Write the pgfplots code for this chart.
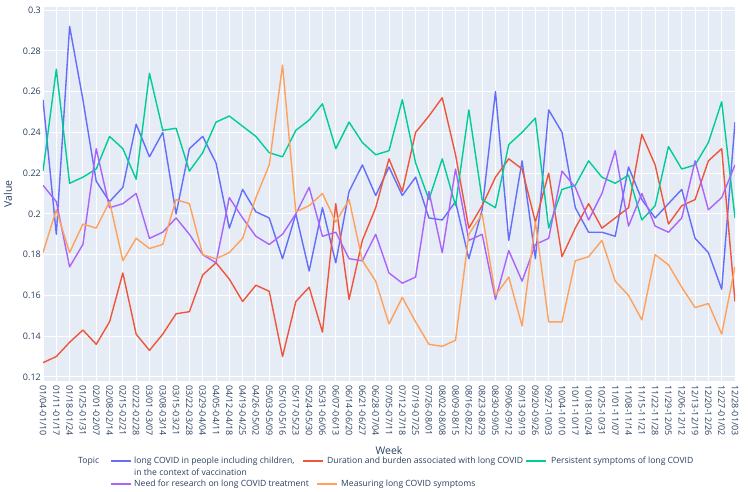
\documentclass[border=0pt]{standalone}
\usepackage{pgfplots}
\pgfplotsset{compat=1.18}
\usepackage{pgfplotstable}
\usepackage{fontspec}
\setmainfont{Open Sans}
\definecolor{txt}{HTML}{2A3F5F}
\definecolor{bgc}{HTML}{E5ECF6}
\definecolor{c1}{HTML}{636EFA}
\definecolor{c2}{HTML}{EF553B}
\definecolor{c3}{HTML}{00CC96}
\definecolor{c4}{HTML}{AB63FA}
\definecolor{c5}{HTML}{FFA15A}

\pgfplotstableread{
x blue red green purple orange
0 0.256 0.127 0.221 0.214 0.181
1 0.190 0.130 0.271 0.206 0.202
2 0.292 0.137 0.215 0.174 0.181
3 0.256 0.143 0.218 0.185 0.195
4 0.216 0.136 0.222 0.232 0.193
5 0.206 0.147 0.238 0.203 0.206
6 0.213 0.171 0.232 0.205 0.177
7 0.244 0.141 0.217 0.210 0.188
8 0.228 0.133 0.269 0.188 0.183
9 0.240 0.141 0.241 0.191 0.185
10 0.200 0.151 0.242 0.198 0.207
11 0.232 0.152 0.221 0.190 0.205
12 0.238 0.170 0.230 0.180 0.180
13 0.225 0.176 0.245 0.176 0.178
14 0.193 0.168 0.248 0.208 0.181
15 0.212 0.157 0.243 0.198 0.188
16 0.201 0.165 0.238 0.189 0.208
17 0.198 0.162 0.230 0.185 0.224
18 0.178 0.130 0.228 0.190 0.273
19 0.200 0.157 0.241 0.200 0.201
20 0.172 0.164 0.246 0.213 0.204
21 0.203 0.142 0.254 0.189 0.210
22 0.176 0.205 0.232 0.191 0.196
23 0.211 0.158 0.245 0.178 0.207
24 0.224 0.187 0.235 0.177 0.177
25 0.209 0.203 0.229 0.190 0.167
26 0.223 0.227 0.231 0.171 0.146
27 0.209 0.211 0.256 0.166 0.159
28 0.218 0.240 0.225 0.169 0.147
29 0.198 0.248 0.207 0.211 0.136
30 0.197 0.257 0.227 0.181 0.135
31 0.206 0.229 0.204 0.222 0.138
32 0.178 0.193 0.251 0.187 0.190
33 0.202 0.204 0.207 0.190 0.200
34 0.260 0.218 0.203 0.158 0.160
35 0.187 0.227 0.234 0.182 0.169
36 0.226 0.222 0.240 0.167 0.145
37 0.178 0.196 0.247 0.185 0.196
38 0.251 0.220 0.193 0.188 0.147
39 0.240 0.179 0.212 0.221 0.147
40 0.203 0.193 0.214 0.213 0.177
41 0.191 0.205 0.226 0.197 0.179
42 0.191 0.193 0.218 0.210 0.187
43 0.189 0.198 0.215 0.231 0.167
44 0.223 0.203 0.219 0.194 0.160
45 0.207 0.239 0.197 0.210 0.148
46 0.198 0.224 0.204 0.194 0.180
47 0.205 0.195 0.233 0.191 0.175
48 0.212 0.204 0.222 0.198 0.164
49 0.188 0.207 0.224 0.226 0.154
50 0.181 0.226 0.235 0.202 0.156
51 0.163 0.232 0.255 0.208 0.141
52 0.245 0.157 0.198 0.224 0.174
}\data

\begin{document}
\begin{tikzpicture}
\begin{axis}[
  at={(43pt,111pt)}, anchor=south west, scale only axis,
  width=692pt, height=374pt,
  xmin=0, xmax=52, ymin=0.118, ymax=0.3015,
  axis background/.style={fill=bgc},
  axis line style={draw=none},
  grid=major, grid style={white, line width=0.9pt},
  major tick length=0pt,
  clip=true,
  xtick={0,...,52},
  xticklabels={01/04-01/10,01/11-01/17,01/18-01/24,01/25-01/31,02/01-02/07,02/08-02/14,02/15-02/21,02/22-02/28,03/01-03/07,03/08-03/14,03/15-03/21,03/22-03/28,03/29-04/04,04/05-04/11,04/12-04/18,04/19-04/25,04/26-05/02,05/03-05/09,05/10-05/16,05/17-05/23,05/24-05/30,05/31-06/06,06/07-06/13,06/14-06/20,06/21-06/27,06/28-07/04,07/05-07/11,07/12-07/18,07/19-07/25,07/26-08/01,08/02-08/08,08/09-08/15,08/16-08/22,08/23-08/29,08/30-09/05,09/06-09/12,09/13-09/19,09/20-09/26,09/27-10/03,10/04-10/10,10/11-10/17,10/18-10/24,10/25-10/31,11/01-11/07,11/08-11/14,11/15-11/21,11/22-11/28,11/29-12/05,12/06-12/12,12/13-12/19,12/20-12/26,12/27-01/02,12/28-01/03},
  xticklabel style={yshift=-4pt, rotate=-90, anchor=west, inner sep=0pt, text=txt, font=\fontsize{9}{10}\selectfont},
  ytick={0.12,0.14,0.16,0.18,0.2,0.22,0.24,0.26,0.28,0.3},
  yticklabels={0.12,0.14,0.16,0.18,0.2,0.22,0.24,0.26,0.28,0.3},
  yticklabel style={anchor=east, inner sep=0pt, xshift=-2pt, text=txt, font=\fontsize{9}{10}\selectfont},
  every axis plot/.append style={line width=1.4pt, line join=round},
]
\addplot[c1] table[x=x,y=blue]{\data};
\addplot[c2] table[x=x,y=red]{\data};
\addplot[c3] table[x=x,y=green]{\data};
\addplot[c4] table[x=x,y=purple]{\data};
\addplot[c5] table[x=x,y=orange]{\data};
\end{axis}
\begin{scope}[every node/.style={anchor=west, inner sep=0pt, text=txt, font=\fontsize{8.6}{10}\selectfont}]
\node at (78pt,31pt) {Topic};
\draw[c1, line width=1.6pt] (111pt,31pt) -- (131pt,31pt);
\node at (134pt,31pt) {long COVID in people including children,};
\node at (134pt,20pt) {in the context of vaccination};
\draw[c2, line width=1.6pt] (303pt,31pt) -- (323pt,31pt);
\node at (327pt,31pt) {Duration and burden associated with long COVID};
\draw[c3, line width=1.6pt] (526pt,31pt) -- (546pt,31pt);
\node at (551pt,31pt) {Persistent symptoms of long COVID};
\draw[c4, line width=1.6pt] (111pt,8pt) -- (131pt,8pt);
\node at (134pt,8pt) {Need for research on long COVID treatment};
\draw[c5, line width=1.6pt] (317pt,8pt) -- (337pt,8pt);
\node at (341pt,8pt) {Measuring long COVID symptoms};
\end{scope}
\node[text=txt, font=\fontsize{10.5}{12}\selectfont] at (389pt,41pt) {Week};
\node[text=txt, font=\fontsize{10.5}{12}\selectfont, rotate=90] at (8pt,298pt) {Value};
\path (0pt,0pt) rectangle (748pt,492pt);
\end{tikzpicture}
\end{document}
